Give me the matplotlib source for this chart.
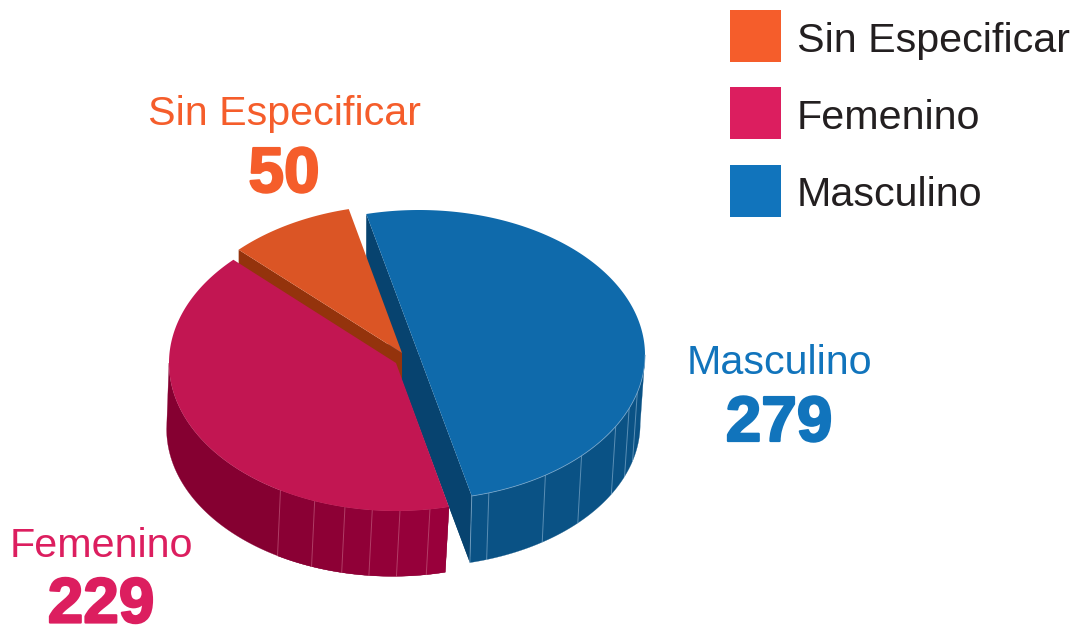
import numpy as np
import matplotlib
matplotlib.use("Agg")
import matplotlib.pyplot as plt
from matplotlib.patches import Polygon, Rectangle
import matplotlib.patheffects as pe

categories = ["Masculino", "Femenino", "Sin Especificar"]
values = [279, 229, 50]
legend_order = ["Sin Especificar", "Femenino", "Masculino"]

top_colors = {"Masculino": "#0F6AAB", "Femenino": "#C21652", "Sin Especificar": "#DB5525"}
wall_colors = {"Masculino": "#0A5285", "Femenino": "#850031", "Sin Especificar": "#94330C"}
cut_colors = {"Masculino": "#07436F", "Sin Especificar": "#94330C"}
label_colors = {"Masculino": "#1174BC", "Femenino": "#DC1E5F", "Sin Especificar": "#F55D2B"}

START = 103.5
radii = {"Masculino": (226, 145), "Femenino": (227, 148), "Sin Especificar": (228, 148)}
centers = {"Masculino": (419, 355), "Femenino": (396, 363), "Sin Especificar": (402, 353)}
bottoms = {"Masculino": (418, 424, .983), "Femenino": (392.5, 429, .995), "Sin Especificar": (402, 419, 1.0)}
blue_seams = [-72, -56, -44, -29.5, -21.6, -15]
red_seams = [-81.4, -89, -96, -103, -111, -120.6]
red_facet_colors = ["#99003B", "#96003A", "#930038", "#900037", "#8D0035", "#8A0034"]

fig = plt.figure(figsize=(10.76, 6.26), dpi=100)
ax = fig.add_axes([0, 0, 1, 1])
ax.set_xlim(0, 1076)
ax.set_ylim(626, 0)
ax.axis("off")

spans = {}
cur = START
for c, v in zip(categories, values):
    nxt = cur - v / sum(values) * 360
    spans[c] = (cur, nxt)
    cur = nxt


def pt(c, center, th, s=1.0):
    t = np.radians(np.atleast_1d(th))
    A, B = radii[c]
    return np.column_stack([center[0] + A * s * np.cos(t), center[1] - B * s * np.sin(t)])


def top(c, z):
    a, b = spans[c]
    arc = pt(c, centers[c], np.linspace(a, b, 200))
    ax.add_patch(Polygon(np.vstack([[centers[c]], arc]), closed=True, fc=top_colors[c], ec="none", zorder=z))


def outer_wall(c, a, b, z, color=None):
    th = np.linspace(a, b, 150)
    bx, by, s = bottoms[c]
    poly = np.vstack([pt(c, centers[c], th), pt(c, (bx, by), th[::-1], s)])
    ax.add_patch(Polygon(poly, closed=True, fc=color or wall_colors[c], ec=color or wall_colors[c], lw=0.2, zorder=z))


def seams(c, angles, color, z):
    bx, by, s = bottoms[c]
    for th in angles:
        p0 = pt(c, centers[c], th)[0]
        p1 = pt(c, (bx, by), th, s)[0]
        ax.plot([p0[0], p1[0]], [p0[1], p1[1]], color=color, lw=0.7, alpha=.55, zorder=z)


# Masculino: cut face, outer wall
m, f, o = "Masculino", "Femenino", "Sin Especificar"
a, b = spans[m]
bx, by, s = bottoms[m]
cut = np.vstack([pt(m, centers[m], a), pt(m, centers[m], b),
                 pt(m, (bx, by), b, s), pt(m, (bx, by), a, s)])
ax.add_patch(Polygon(cut, closed=True, fc=cut_colors[m], ec="none", zorder=1))
# the cut face reaches the Femenino edge
filler = np.vstack([[centers[m]], pt(m, (bx, by), b, s), pt(f, centers[f], spans[f][0]), [centers[f]]])
ax.add_patch(Polygon(filler, closed=True, fc=cut_colors[m], ec="none", zorder=1))
outer_wall(m, b, 0, 2)
seams(m, [b] + blue_seams, "#9CC0DC", 3)

# Sin Especificar: cut face and top
a, b = spans[o]
bx, by, s = bottoms[o]
cut = np.vstack([pt(o, centers[o], a), [centers[o]], [(bx, by)], pt(o, (bx, by), a, s)])
ax.add_patch(Polygon(cut, closed=True, fc=cut_colors[o], ec="none", zorder=4))
top(o, 5)

# Femenino: outer wall and top
a, b = spans[f]
outer_wall(f, a, -180, 6)
edges = [a] + red_seams
for e0, e1, col in zip(edges[:-1], edges[1:], red_facet_colors):
    outer_wall(f, e0, e1, 6.5, col)
seams(f, red_seams, "#D0708F", 7)
top(f, 8)

# Masculino top
top(m, 9)
a, b = spans[m]
rim = pt(m, centers[m], np.linspace(b, 0, 100))
ax.plot(rim[:, 0], rim[:, 1], color="#8FB6D6", lw=0.6, alpha=.7, zorder=10)

# Direct labels
FONT = "Liberation Sans"
label_pos = {"Sin Especificar": (284, 125, 284, 192),
             "Masculino": (779, 374, 779, 441),
             "Femenino": (101, 557, 101, 622.5)}
vals = dict(zip(categories, values))
for c, (lx, ly, nx, ny) in label_pos.items():
    ax.text(lx, ly, c, ha="center", va="baseline", fontsize=29.7, family=FONT, color=label_colors[c], zorder=12)
    ax.text(nx, ny, str(vals[c]), ha="center", va="baseline", fontsize=46, family=FONT, weight="bold",
            color=label_colors[c], zorder=12,
            path_effects=[pe.withStroke(linewidth=1.6, foreground=label_colors[c])])

# Legend
leg_y = [10, 87, 165]
leg_base = [52, 129, 206]
for c, y, yb in zip(legend_order, leg_y, leg_base):
    ax.add_patch(Rectangle((730, y), 51, 52, fc=label_colors[c], ec="none", zorder=12))
    ax.text(797, yb, c, ha="left", va="baseline", fontsize=29.7, family=FONT, color="#231F20", zorder=12)

fig.savefig("out.png", dpi=100, facecolor="white")
